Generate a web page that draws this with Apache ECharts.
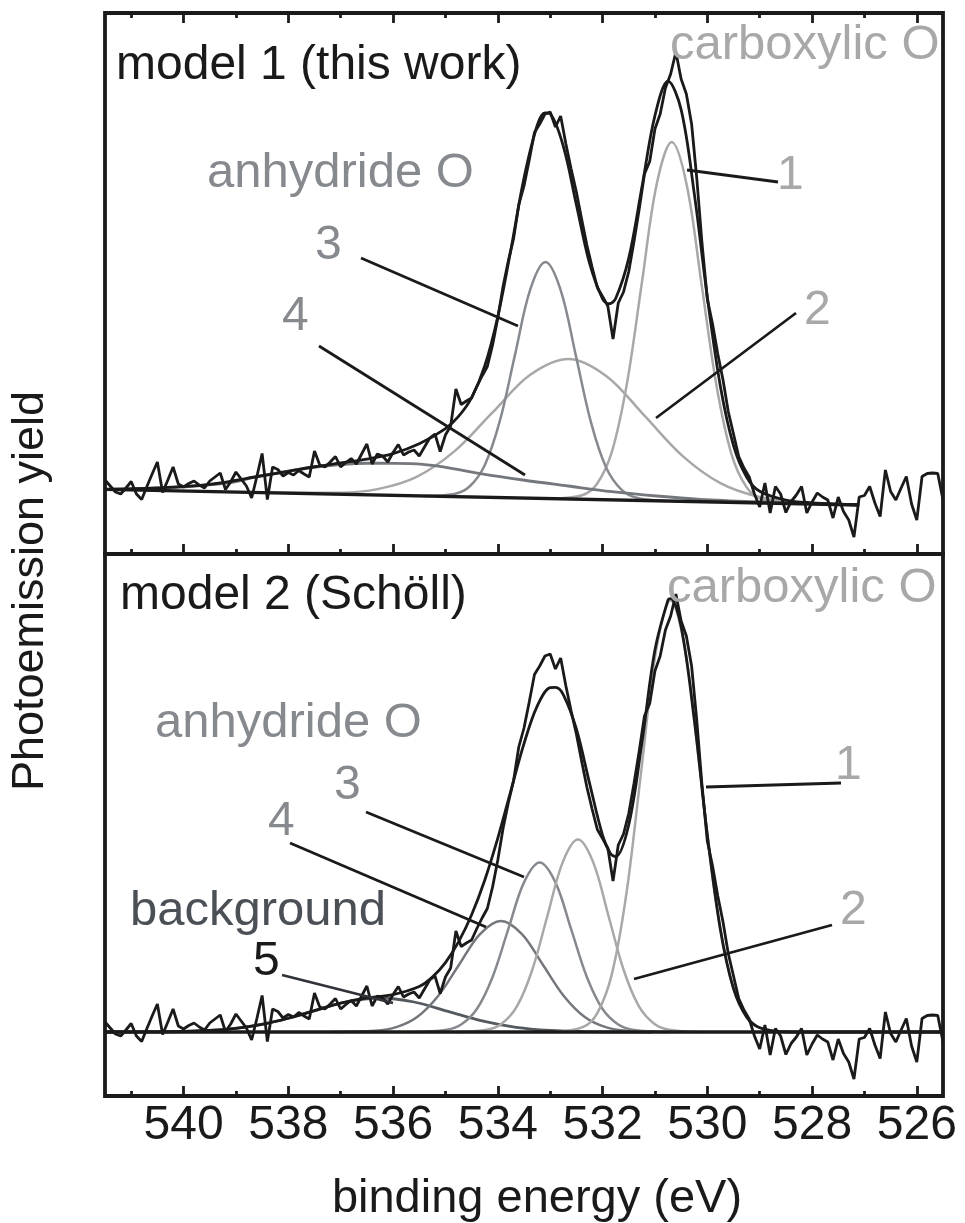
<!DOCTYPE html>
<html>
<head>
<meta charset="utf-8">
<script src="https://cdn.jsdelivr.net/npm/echarts@6/dist/echarts.min.js"></script>
<style>
html,body{margin:0;padding:0;background:#ffffff;}
#chart{width:965px;height:1223px;}
</style>
</head>
<body>
<div id="chart"></div>
<script>
// ---------- tick labels ----------
const majorTicks = [540, 538, 536, 534, 532, 530, 528, 526];
const minorTicks = [541, 539, 537, 535, 533, 531, 529, 527];

// ---------- measured spectrum (binding energy eV, yield arb. units) ----------
const measured = [
[541.5,14.8],[541.4,13.6],[541.3,12.4],[541.2,12.0],[541.1,13.2],[541.0,14.5],[540.9,12.0],[540.8,10.9],[540.7,13.5],[540.6,16.0],
[540.5,18.4],[540.4,12.3],[540.3,14.8],[540.2,17.4],[540.1,14.0],[540.0,13.4],[539.9,14.1],[539.8,14.6],[539.7,13.8],[539.6,13.2],
[539.5,14.6],[539.4,15.4],[539.3,16.2],[539.2,12.9],[539.1,14.4],[539.0,16.4],[538.9,15.0],[538.8,13.6],[538.7,11.2],[538.6,15.5],
[538.5,20.1],[538.4,10.9],[538.3,17.4],[538.2,16.9],[538.1,15.6],[538.0,16.3],[537.9,15.8],[537.8,16.7],[537.7,16.0],[537.6,15.4],
[537.5,20.6],[537.4,17.8],[537.3,17.4],[537.2,18.4],[537.1,19.5],[537.0,17.4],[536.9,18.3],[536.8,19.1],[536.7,18.0],[536.6,20.0],
[536.5,22.0],[536.4,18.0],[536.3,20.0],[536.2,19.6],[536.1,18.4],[536.0,20.3],[535.9,21.9],[535.8,19.8],[535.7,20.4],[535.6,20.8],
[535.5,19.6],[535.4,21.4],[535.3,23.2],[535.2,24.0],[535.1,20.5],[535.0,23.8],[534.9,25.6],[534.8,33.0],[534.7,29.9],[534.6,30.6],
[534.5,31.2],[534.4,33.5],[534.3,35.6],[534.2,37.5],[534.1,41.8],[534.0,47.2],[533.9,53.5],[533.8,58.6],[533.7,63.0],[533.6,69.8],
[533.5,73.6],[533.4,78.8],[533.3,84.3],[533.2,86.0],[533.1,88.0],[533.0,88.4],[532.9,85.4],[532.8,87.6],[532.7,82.0],[532.6,77.0],
[532.5,72.4],[532.4,67.0],[532.3,61.8],[532.2,57.4],[532.1,53.3],[532.0,51.5],[531.9,49.6],[531.8,43.0],[531.7,50.2],[531.6,52.4],
[531.5,56.5],[531.4,62.5],[531.3,69.0],[531.2,76.0],[531.1,78.5],[531.0,85.0],[530.9,88.0],[530.8,93.2],[530.7,96.0],[530.6,100.4],
[530.5,95.0],[530.4,92.0],[530.3,86.0],[530.2,75.0],[530.1,62.0],[530.0,51.0],[529.9,46.0],[529.8,40.0],[529.7,34.8],[529.6,28.5],
[529.5,24.0],[529.4,19.5],[529.3,17.2],[529.2,15.4],[529.1,12.0],[529.0,9.4],[528.9,14.2],[528.8,8.2],[528.7,13.5],[528.6,12.0],
[528.5,8.3],[528.4,10.5],[528.3,11.8],[528.2,13.5],[528.1,8.2],[528.0,10.4],[527.9,12.2],[527.8,11.4],[527.7,10.8],[527.6,7.2],
[527.5,11.4],[527.4,8.5],[527.3,6.8],[527.2,3.4],[527.1,11.4],[527.0,11.7],[526.9,13.5],[526.8,10.2],[526.7,7.5],[526.6,16.8],
[526.5,12.5],[526.4,10.8],[526.3,13.2],[526.2,15.5],[526.1,10.0],[526.0,6.8],[525.9,15.5],[525.8,16.1],[525.7,16.2],[525.6,16.1],
[525.5,10.8]
];

// ---------- model 1 (this work) ----------
const m1Background = [[541.5,12.94],[527.1,9.80]];
const m1Peak1 = [[532.96,11.10],[532.39,11.75],[532.105,14.04],[531.82,20.53],[531.535,34.07],[531.25,54.20],[530.965,74.04],[530.68,82.38],
  [530.395,73.92],[530.11,53.96],[529.825,33.69],[529.54,20.03],[529.255,13.42],[528.97,11.01],[528.4,10.10]];
const m1Peak2 = [[538.45,12.28],[537.0,12.27],[536.275,13.03],[535.55,15.43],[534.825,20.57],[534.1,28.31],[533.375,35.88],[532.65,39.01],
  [531.925,35.56],[531.2,27.67],[530.475,19.63],[529.75,14.17],[529.025,11.45],[528.3,10.37],[527.1,9.82]];
const m1Peak3 = [[535.41,11.62],[534.83,12.01],[534.54,13.50],[534.25,17.76],[533.96,26.66],[533.67,39.92],[533.38,52.91],[533.09,58.41],
  [532.8,52.78],[532.51,39.67],[532.22,26.28],[531.93,17.25],[531.64,12.87],[531.35,11.25],[530.77,10.61]];
const m1Peak4 = [[541.5,12.94],[540.2,13.30],[539.1,14.30],[538.6,15.47],[537.55,17.30],[537.0,17.90],[536.48,18.15],[535.95,18.14],
  [535.43,17.94],[535.0,17.34],[534.36,16.14],[533.52,14.80],[532.66,13.60],[531.82,12.46],[530.97,11.60],[530.13,10.94],[529.06,10.46],[527.1,9.80]];
const m1Fit = [[541.5,12.94],[540.5,13.22],[539.5,13.94],[538.5,15.65],[538.0,16.53],[537.5,17.45],[537.0,18.21],[536.5,18.98],[536.0,20.08],
  [535.5,22.04],[535.0,25.08],[534.75,27.52],[534.5,31.28],[534.25,37.59],[534.0,47.51],[533.75,60.91],[533.5,75.19],[533.25,85.66],
  [533.1,88.20],[533.0,88.02],[532.75,81.59],[532.5,69.88],[532.25,58.21],[532.0,51.04],[531.875,50.05],[531.75,51.09],[531.5,59.17],
  [531.25,73.28],[531.0,87.69],[530.75,94.59],[530.5,88.87],[530.25,72.17],[530.0,51.39],[529.75,33.52],[529.5,21.70],[529.25,15.41],
  [529.0,12.54],[528.5,10.78],[528.0,10.24],[527.1,9.82]];

// ---------- model 2 (Schöll) ----------
const m2Background = [[541.5,12.8],[525.5,12.8]];
const m2Peak1 = [[532.94,12.83],[532.38,13.76],[532.1,16.59],[531.82,24.48],[531.54,40.82],[531.26,65.14],[530.98,88.96],[530.7,99.10],
  [530.42,88.96],[530.14,65.14],[529.86,40.82],[529.58,24.48],[529.3,16.59],[529.02,13.76],[528.46,12.83]];
const m2Peak2 = [[534.79,12.81],[534.21,13.23],[533.92,14.49],[533.63,18.01],[533.34,25.30],[533.05,36.15],[532.76,46.78],[532.47,51.30],
  [532.18,46.78],[531.89,36.15],[531.6,25.30],[531.31,18.01],[531.02,14.49],[530.73,13.23],[530.15,12.81]];
const m2Peak3 = [[535.6,12.81],[535.0,13.18],[534.7,14.29],[534.4,17.39],[534.1,23.81],[533.8,33.36],[533.5,42.72],[533.2,46.70],
  [532.9,42.72],[532.6,33.36],[532.3,23.81],[532.0,17.39],[531.7,14.29],[531.4,13.18],[530.8,12.81]];
const m2Peak4 = [[537.14,12.81],[536.34,13.05],[535.94,13.77],[535.54,15.80],[535.14,20.01],[534.74,26.26],[534.34,32.39],[533.94,35.00],
  [533.54,32.39],[533.14,26.26],[532.74,20.01],[532.34,15.80],[531.94,13.77],[531.54,13.05],[530.74,12.81]];
const m2Peak5 = [[541.45,12.80],[540.15,12.88],[539.5,13.10],[538.85,13.72],[538.2,15.01],[537.55,16.92],[536.9,18.80],[536.25,19.60],
  [535.6,18.80],[534.95,16.92],[534.3,15.01],[533.65,13.72],[533.0,13.10],[532.35,12.88],[531.05,12.80]];
const m2Fit = [[541.5,12.80],[540.5,12.83],[539.5,13.10],[539.0,13.53],[538.5,14.32],[538.0,15.55],[537.5,17.08],[537.0,18.57],[536.5,19.61],
  [536.0,20.29],[535.5,21.90],[535.25,23.77],[535.0,26.69],[534.75,30.81],[534.5,36.25],[534.25,43.16],[534.0,51.59],[533.75,61.09],
  [533.5,70.48],[533.25,77.93],[533.0,81.68],[532.9,81.74],[532.75,80.29],[532.5,73.40],[532.25,62.62],[532.0,52.14],[531.85,48.50],
  [531.75,47.85],[531.5,54.24],[531.25,70.55],[531.0,89.18],[530.75,99.24],[530.7,99.47],[530.5,93.89],[530.25,75.32],[530.0,52.31],
  [529.75,33.27],[529.5,21.49],[529.25,15.82],[529.0,13.66],[528.5,12.84],[528.0,12.80],[525.5,12.80]];

// ---------- styling ----------
const FONT = '"Liberation Sans", Arial, Helvetica, sans-serif';
const BLACK = '#1a1a1a';
const LIGHT = '#a8a8a8';
const MID = '#868a8f';
const DARK = '#74787d';
const DARKER = '#555a5f';

function tickAxis(grid, pos, values, len, withLabels) {
  return {
    type: 'value', gridIndex: grid, position: pos,
    min: 525.5, max: 541.5, inverse: true,
    axisLine: { show: false, onZero: false },
    splitLine: { show: false },
    axisTick: { show: true, inside: true, length: len, customValues: values,
      lineStyle: { color: BLACK, width: 2.8 } },
    axisLabel: withLabels ? {
      show: true, customValues: values, margin: 6, fontSize: 48, lineHeight: 48,
      color: BLACK, fontFamily: FONT
    } : { show: false }
  };
}

function line(data, xi, yi, color, width, smooth) {
  return {
    type: 'line', data: data, xAxisIndex: xi, yAxisIndex: yi,
    symbol: 'none', showSymbol: false, smooth: smooth ? 0.35 : false,
    lineStyle: { color: color, width: width }, silent: true, animation: false
  };
}

function label(text, x, baseline, color, size) {
  const fs = size || 48;
  return { type: 'text', x: x, y: baseline - 0.3465 * fs, z: 100,
    style: { text: text, fill: color, font: fs + 'px ' + FONT,
      align: 'left', verticalAlign: 'middle', textAlign: 'left', textVerticalAlign: 'middle' } };
}
function leader(x1, y1, x2, y2, color) {
  return { type: 'line', z: 100, shape: { x1: x1, y1: y1, x2: x2, y2: y2 },
    style: { stroke: color || BLACK, lineWidth: 2.8 } };
}

const option = {
  animation: false,
  backgroundColor: '#ffffff',
  grid: [
    { left: 105, top: 13, width: 838, height: 541, show: true, borderColor: BLACK, borderWidth: 3.8, backgroundColor: 'transparent' },
    { left: 105, top: 554, width: 838, height: 542, show: true, borderColor: BLACK, borderWidth: 3.8, backgroundColor: 'transparent' }
  ],
  xAxis: [
    tickAxis(0, 'bottom', majorTicks, 10, false),
    tickAxis(0, 'bottom', minorTicks, 5, false),
    tickAxis(0, 'top', majorTicks, 10, false),
    tickAxis(0, 'top', minorTicks, 5, false),
    tickAxis(1, 'bottom', majorTicks, 10, true),
    tickAxis(1, 'bottom', minorTicks, 5, false)
  ],
  yAxis: [
    { type: 'value', gridIndex: 0, min: 0, max: 108.2, show: false },
    { type: 'value', gridIndex: 1, min: 0, max: 108.4, show: false }
  ],
  series: [
    line(m1Peak2, 0, 0, LIGHT, 2.5, true),
    line(m1Peak1, 0, 0, LIGHT, 2.5, true),
    line(m1Peak3, 0, 0, MID, 2.5, true),
    line(m1Peak4, 0, 0, DARK, 2.8, true),
    line(m1Background, 0, 0, BLACK, 3.3, false),
    line(m1Fit, 0, 0, BLACK, 2.8, true),
    line(measured, 0, 0, BLACK, 2.8, false),

    line(m2Peak5, 4, 1, DARKER, 2.8, true),
    line(m2Peak4, 4, 1, DARK, 2.5, true),
    line(m2Peak3, 4, 1, MID, 2.5, true),
    line(m2Peak2, 4, 1, LIGHT, 2.5, true),
    line(m2Peak1, 4, 1, LIGHT, 2.5, true),
    line(m2Background, 4, 1, BLACK, 3.3, false),
    line(m2Fit, 4, 1, BLACK, 2.8, true),
    line(measured, 4, 1, BLACK, 2.8, false)
  ],
  graphic: [
    // axis titles
    { type: 'text', x: 537, y: 1215 - 0.3465 * 47, z: 100,
      style: { text: 'binding energy (eV)', fill: BLACK, font: '47px ' + FONT,
        align: 'center', verticalAlign: 'middle', textAlign: 'center', textVerticalAlign: 'middle' } },
    { type: 'text', x: 31, y: 591, rotation: Math.PI / 2, z: 100,
      style: { text: 'Photoemission yield', fill: BLACK, font: '45px ' + FONT,
        align: 'center', verticalAlign: 'middle', textAlign: 'center', textVerticalAlign: 'middle' } },

    // top panel annotations
    label('model 1 (this work)', 116, 82, BLACK),
    label('carboxylic O', 670, 62, LIGHT, 49),
    label('anhydride O', 207, 190, MID, 49),
    label('1', 777, 192, LIGHT),
    label('3', 315, 262, MID),
    label('2', 804, 327, LIGHT),
    label('4', 282, 333, MID),
    leader(687, 170, 778, 182),
    leader(361, 258, 518, 326),
    leader(796, 313, 656, 418),
    leader(319, 346, 525, 475),

    // bottom panel annotations
    label('model 2 (Schöll)', 120, 612, BLACK),
    label('carboxylic O', 667, 605, LIGHT, 49),
    label('anhydride O', 155, 740, MID, 49),
    label('1', 835, 782, LIGHT),
    label('3', 334, 802, MID),
    label('4', 268, 838, MID),
    label('background', 130, 928, '#4b5056', 49),
    label('5', 253, 978, BLACK),
    label('2', 840, 927, LIGHT),
    leader(706, 787, 841, 783),
    leader(366, 812, 524, 877),
    leader(290, 843, 486, 927),
    leader(282, 975, 393, 1003, '#2f3236'),
    leader(832, 925, 634, 979)
  ]
};

const chart = echarts.init(document.getElementById('chart'), null, { renderer: 'canvas' });
chart.setOption(option);
</script>
</body>
</html>
